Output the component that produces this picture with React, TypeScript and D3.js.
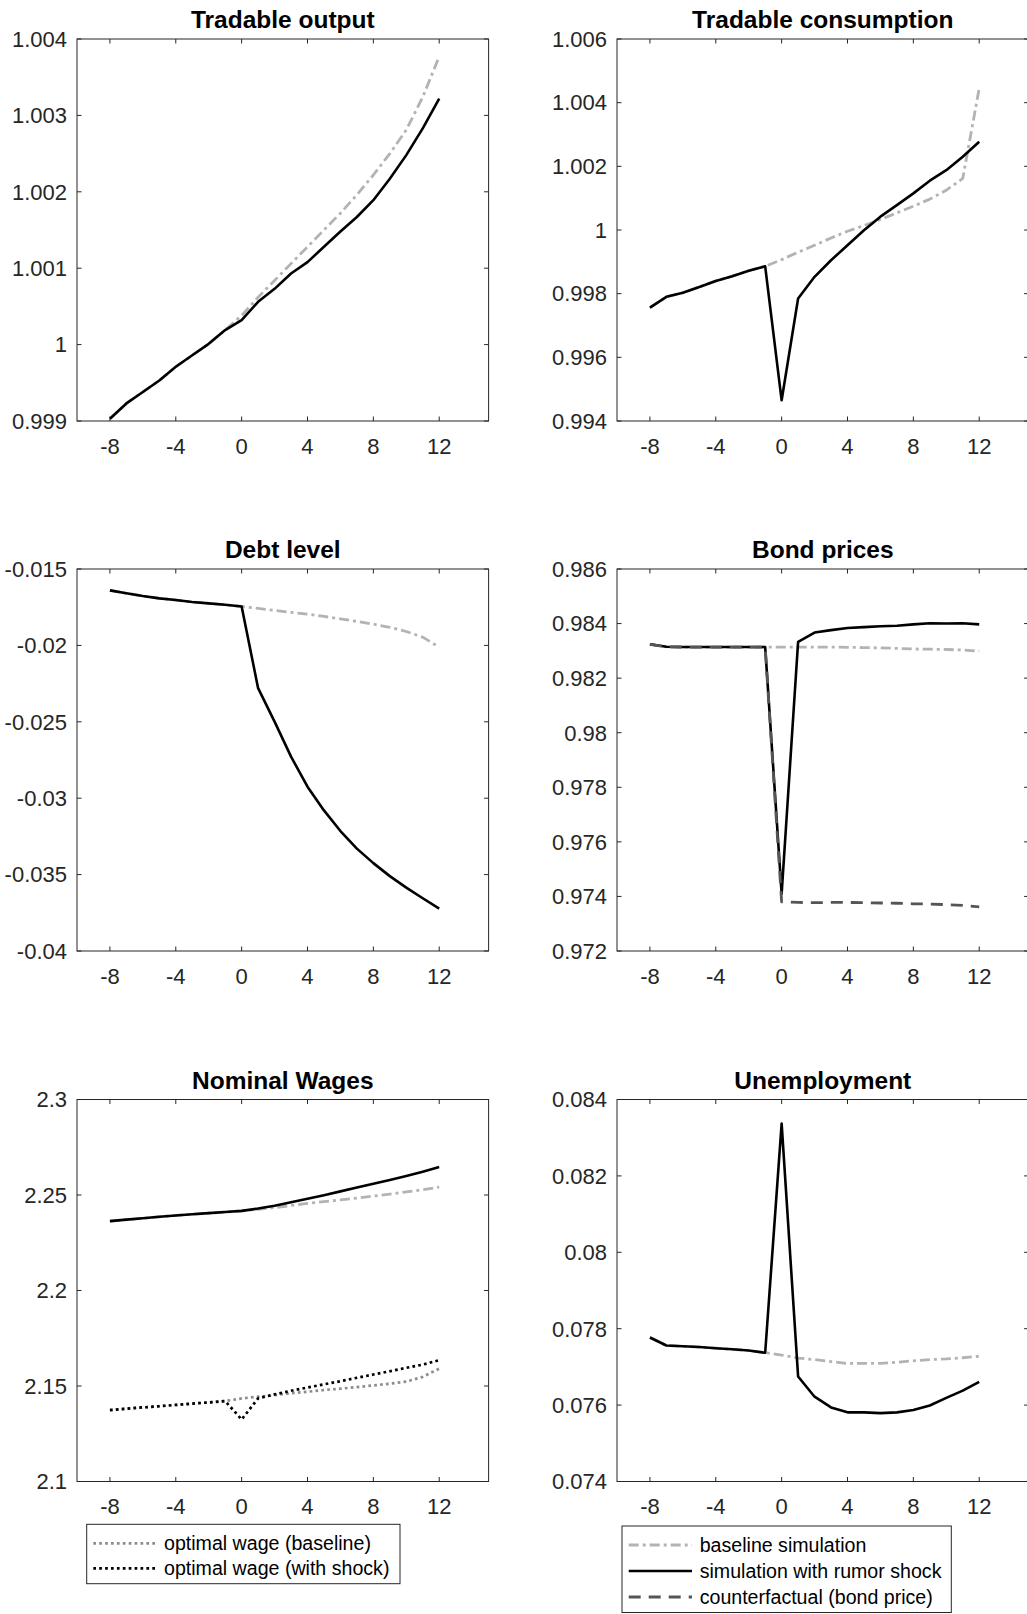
import { useEffect, useRef } from 'react';
import * as d3 from 'd3';

// periods relative to the shock
const periods = [-8, -7, -6, -5, -4, -3, -2, -1, 0, 1, 2, 3, 4, 5, 6, 7, 8, 9, 10, 11, 12];
const xTicks = [-8, -4, 0, 4, 8, 12];

// Tradable output
const outputBaseline = [0.99903, 0.99923, 0.99938, 0.99953, 0.99971, 0.99986, 1.00001, 1.00019, 1.00038, 1.00062, 1.00084, 1.00106, 1.00128, 1.0015, 1.00172, 1.00196, 1.00222, 1.0025, 1.00281, 1.00324, 1.00377];
const outputShock = [0.99903, 0.99923, 0.99938, 0.99953, 0.99971, 0.99986, 1.00001, 1.00019, 1.00032, 1.00056, 1.00073, 1.00093, 1.00108, 1.00128, 1.00148, 1.00167, 1.00189, 1.00217, 1.00248, 1.00283, 1.00322];
const outputTicks = [0.999, 1, 1.001, 1.002, 1.003, 1.004];
const outputTickLabels = ['0.999', '1', '1.001', '1.002', '1.003', '1.004'];

// Tradable consumption
const consBaseline = [0.99756, 0.9979, 0.99803, 0.99821, 0.9984, 0.99855, 0.99872, 0.99886, 0.99907, 0.9993, 0.99952, 0.99975, 0.99996, 1.00014, 1.00033, 1.00054, 1.00075, 1.00097, 1.00125, 1.00162, 1.00445];
const consShock = [0.99756, 0.9979, 0.99803, 0.99821, 0.9984, 0.99855, 0.99872, 0.99886, 0.99465, 0.99785, 0.99853, 0.99905, 0.99952, 0.99999, 1.00042, 1.00078, 1.00115, 1.00155, 1.00188, 1.0023, 1.00277];
const consTicks = [0.994, 0.996, 0.998, 1, 1.002, 1.004, 1.006];
const consTickLabels = ['0.994', '0.996', '0.998', '1', '1.002', '1.004', '1.006'];

// Debt level
const debtBaseline = [-0.0164, -0.01659, -0.01677, -0.01692, -0.01703, -0.01716, -0.01725, -0.01734, -0.01745, -0.01758, -0.01771, -0.01784, -0.01795, -0.0181, -0.01826, -0.01843, -0.01861, -0.01882, -0.01909, -0.01946, -0.02011];
const debtShock = [-0.0164, -0.01659, -0.01677, -0.01692, -0.01703, -0.01716, -0.01725, -0.01734, -0.01745, -0.0228, -0.02499, -0.02728, -0.02925, -0.0308, -0.03215, -0.0333, -0.03425, -0.0351, -0.03585, -0.03655, -0.03722];
const debtTicks = [-0.04, -0.035, -0.03, -0.025, -0.02, -0.015];
const debtTickLabels = ['-0.04', '-0.035', '-0.03', '-0.025', '-0.02', '-0.015'];

// Bond prices
const bondBaseline = [0.98324, 0.98315, 0.98314, 0.98314, 0.98314, 0.98314, 0.98314, 0.98314, 0.98314, 0.98314, 0.98314, 0.98314, 0.98313, 0.98312, 0.98311, 0.98309, 0.98307, 0.98306, 0.98305, 0.98303, 0.98299];
const bondShock = [0.98324, 0.98315, 0.98314, 0.98314, 0.98314, 0.98314, 0.98314, 0.98314, 0.9741, 0.98333, 0.98367, 0.98376, 0.98384, 0.98387, 0.9839, 0.98392, 0.98397, 0.98401, 0.984, 0.98401, 0.98397];
const bondCounterfactual = [0.98324, 0.98315, 0.98314, 0.98314, 0.98314, 0.98314, 0.98314, 0.98314, 0.9738, 0.97378, 0.97377, 0.97378, 0.97378, 0.97377, 0.97376, 0.97375, 0.97373, 0.97372, 0.9737, 0.97367, 0.97362];
const bondTicks = [0.972, 0.974, 0.976, 0.978, 0.98, 0.982, 0.984, 0.986];
const bondTickLabels = ['0.972', '0.974', '0.976', '0.978', '0.98', '0.982', '0.984', '0.986'];

// Nominal wages
const wageBaseline = [2.2363, 2.2371, 2.2378, 2.2386, 2.2393, 2.2399, 2.2405, 2.2411, 2.2417, 2.2425, 2.2434, 2.2445, 2.2456, 2.2465, 2.2474, 2.2484, 2.2494, 2.2505, 2.2516, 2.2528, 2.2541];
const wageShock = [2.2363, 2.2371, 2.2378, 2.2386, 2.2393, 2.2399, 2.2405, 2.2411, 2.2417, 2.2429, 2.2444, 2.2462, 2.248, 2.2499, 2.2519, 2.2539, 2.2559, 2.2579, 2.26, 2.2622, 2.2646];
const optWageBaseline = [2.1374, 2.1381, 2.1388, 2.1394, 2.1401, 2.1408, 2.1414, 2.1421, 2.1435, 2.1444, 2.1452, 2.1462, 2.147, 2.1479, 2.1486, 2.1494, 2.1503, 2.1512, 2.1523, 2.1548, 2.1591];
const optWageShock = [2.1374, 2.1381, 2.1388, 2.1394, 2.1401, 2.1408, 2.1414, 2.1421, 2.1325, 2.1435, 2.1456, 2.1475, 2.1492, 2.1509, 2.1525, 2.1543, 2.156, 2.1577, 2.1595, 2.1612, 2.1635];
const wageTicks = [2.1, 2.15, 2.2, 2.25, 2.3];
const wageTickLabels = ['2.1', '2.15', '2.2', '2.25', '2.3'];

// Unemployment
const unempBaseline = [0.07777, 0.07756, 0.07754, 0.07752, 0.07749, 0.07746, 0.07743, 0.07737, 0.07731, 0.07723, 0.07719, 0.07714, 0.07709, 0.07709, 0.07709, 0.07712, 0.07716, 0.07719, 0.07721, 0.07724, 0.07728];
const unempShock = [0.07777, 0.07756, 0.07754, 0.07752, 0.07749, 0.07746, 0.07743, 0.07737, 0.08337, 0.07675, 0.07622, 0.07594, 0.07581, 0.07581, 0.07579, 0.07581, 0.07587, 0.07599, 0.07619, 0.07638, 0.07661];
const unempTicks = [0.074, 0.076, 0.078, 0.08, 0.082, 0.084];
const unempTickLabels = ['0.074', '0.076', '0.078', '0.08', '0.082', '0.084'];

const STYLES = {
  baseline: { color: '#b3b3b3', dash: '10,4,3,4', width: 2.8 },
  shock: { color: '#000000', dash: null, width: 2.6 },
  counter: { color: '#555555', dash: '12,8', width: 2.8 },
  optBase: { color: '#8c8c8c', dash: '2.7,3.2', width: 2.7 },
  optShock: { color: '#000000', dash: '2.7,3.2', width: 2.7 },
};

const panels = [
  { title: 'Tradable output', col: 0, row: 0, ticks: outputTicks, labels: outputTickLabels,
    series: [{ v: outputBaseline, s: 'baseline' }, { v: outputShock, s: 'shock' }] },
  { title: 'Tradable consumption', col: 1, row: 0, ticks: consTicks, labels: consTickLabels,
    series: [{ v: consBaseline, s: 'baseline' }, { v: consShock, s: 'shock' }] },
  { title: 'Debt level', col: 0, row: 1, ticks: debtTicks, labels: debtTickLabels,
    series: [{ v: debtBaseline, s: 'baseline' }, { v: debtShock, s: 'shock' }] },
  { title: 'Bond prices', col: 1, row: 1, ticks: bondTicks, labels: bondTickLabels,
    series: [{ v: bondBaseline, s: 'baseline' }, { v: bondShock, s: 'shock' }, { v: bondCounterfactual, s: 'counter' }] },
  { title: 'Nominal Wages', col: 0, row: 2, ticks: wageTicks, labels: wageTickLabels,
    series: [{ v: wageBaseline, s: 'baseline' }, { v: wageShock, s: 'shock' },
      { v: optWageBaseline, s: 'optBase' }, { v: optWageShock, s: 'optShock' }] },
  { title: 'Unemployment', col: 1, row: 2, ticks: unempTicks, labels: unempTickLabels,
    series: [{ v: unempBaseline, s: 'baseline' }, { v: unempShock, s: 'shock' }] },
];

const legendLeft = [
  { label: 'optimal wage (baseline)', s: 'optBase' },
  { label: 'optimal wage (with shock)', s: 'optShock' },
];
const legendRight = [
  { label: 'baseline simulation', s: 'baseline' },
  { label: 'simulation with rumor shock', s: 'shock' },
  { label: 'counterfactual (bond price)', s: 'counter' },
];

const W = 1027;
const H = 1614;
const FONT = '"Liberation Sans", Arial, Helvetica, sans-serif';
const AXIS = '#262626';

export default function App() {
  const svgRef = useRef(null);

  useEffect(() => {
    const svg = d3.select(svgRef.current);
    svg.selectAll('*').remove();

    const colX = [77, 617];
    const rowY = [39, 569, 1099.5];
    const pw = 411.6;
    const ph = 382;
    const tick = 4.5;

    panels.forEach(p => {
      const left = colX[p.col];
      const top = rowY[p.row];
      const g = svg.append('g').attr('transform', `translate(${left},${top})`);

      const x = d3.scaleLinear().domain([-10, 15]).range([0, pw]);
      const y = d3.scaleLinear().domain([p.ticks[0], p.ticks[p.ticks.length - 1]]).range([ph, 0]);

      // box
      g.append('rect')
        .attr('width', pw).attr('height', ph)
        .attr('fill', 'none').attr('stroke', AXIS).attr('stroke-width', 1);

      // x ticks (bottom + top, inward)
      xTicks.forEach(t => {
        g.append('line').attr('x1', x(t)).attr('x2', x(t)).attr('y1', ph).attr('y2', ph - tick)
          .attr('stroke', AXIS).attr('stroke-width', 1);
        g.append('line').attr('x1', x(t)).attr('x2', x(t)).attr('y1', 0).attr('y2', tick)
          .attr('stroke', AXIS).attr('stroke-width', 1);
        g.append('text')
          .attr('x', x(t)).attr('y', ph + 32.5)
          .attr('text-anchor', 'middle')
          .attr('fill', AXIS)
          .style('font-size', '22px')
          .text(String(t));
      });

      // y ticks (left + right, inward)
      p.ticks.forEach((t, i) => {
        g.append('line').attr('x1', 0).attr('x2', tick).attr('y1', y(t)).attr('y2', y(t))
          .attr('stroke', AXIS).attr('stroke-width', 1);
        g.append('line').attr('x1', pw).attr('x2', pw - tick).attr('y1', y(t)).attr('y2', y(t))
          .attr('stroke', AXIS).attr('stroke-width', 1);
        g.append('text')
          .attr('x', -10).attr('y', y(t) + 7.8)
          .attr('text-anchor', 'end')
          .attr('fill', AXIS)
          .style('font-size', '22px')
          .text(p.labels[i]);
      });

      // title
      g.append('text')
        .attr('x', pw / 2).attr('y', -10.7)
        .attr('text-anchor', 'middle')
        .attr('fill', '#000')
        .style('font-size', '24.5px')
        .style('font-weight', 'bold')
        .text(p.title);

      // lines
      const line = d3.line().x((d, i) => x(periods[i])).y(d => y(d));
      p.series.forEach(se => {
        const st = STYLES[se.s];
        g.append('path')
          .datum(se.v)
          .attr('d', line)
          .attr('fill', 'none')
          .attr('stroke', st.color)
          .attr('stroke-width', st.width)
          .attr('stroke-dasharray', st.dash)
          .attr('stroke-linejoin', 'round');
      });
    });

    // legends
    const drawLegend = (items, bx, by, bw, bh, rowStart, rowGap, sx1, sx2, tx) => {
      const g = svg.append('g');
      g.append('rect')
        .attr('x', bx).attr('y', by).attr('width', bw).attr('height', bh)
        .attr('fill', '#fff').attr('stroke', AXIS).attr('stroke-width', 1);
      items.forEach((it, i) => {
        const st = STYLES[it.s];
        const cy = rowStart + i * rowGap;
        g.append('line')
          .attr('x1', sx1).attr('x2', sx2).attr('y1', cy).attr('y2', cy)
          .attr('stroke', st.color).attr('stroke-width', st.width)
          .attr('stroke-dasharray', st.dash);
        g.append('text')
          .attr('x', tx).attr('y', cy + 7)
          .attr('fill', '#000')
          .style('font-size', '19.6px')
          .text(it.label);
      });
    };

    drawLegend(legendLeft, 86.7, 1524.3, 313.3, 59.4, 1543.3, 25, 93.3, 155.3, 164);
    drawLegend(legendRight, 622, 1526, 329.3, 86.5, 1545, 26, 628.7, 692, 699.7);
  }, []);

  return (
    <svg
      ref={svgRef}
      width={W}
      height={H}
      style={{ position: 'absolute', left: 0, top: 0, display: 'block', fontFamily: FONT, background: '#fff' }}
    />
  );
}
